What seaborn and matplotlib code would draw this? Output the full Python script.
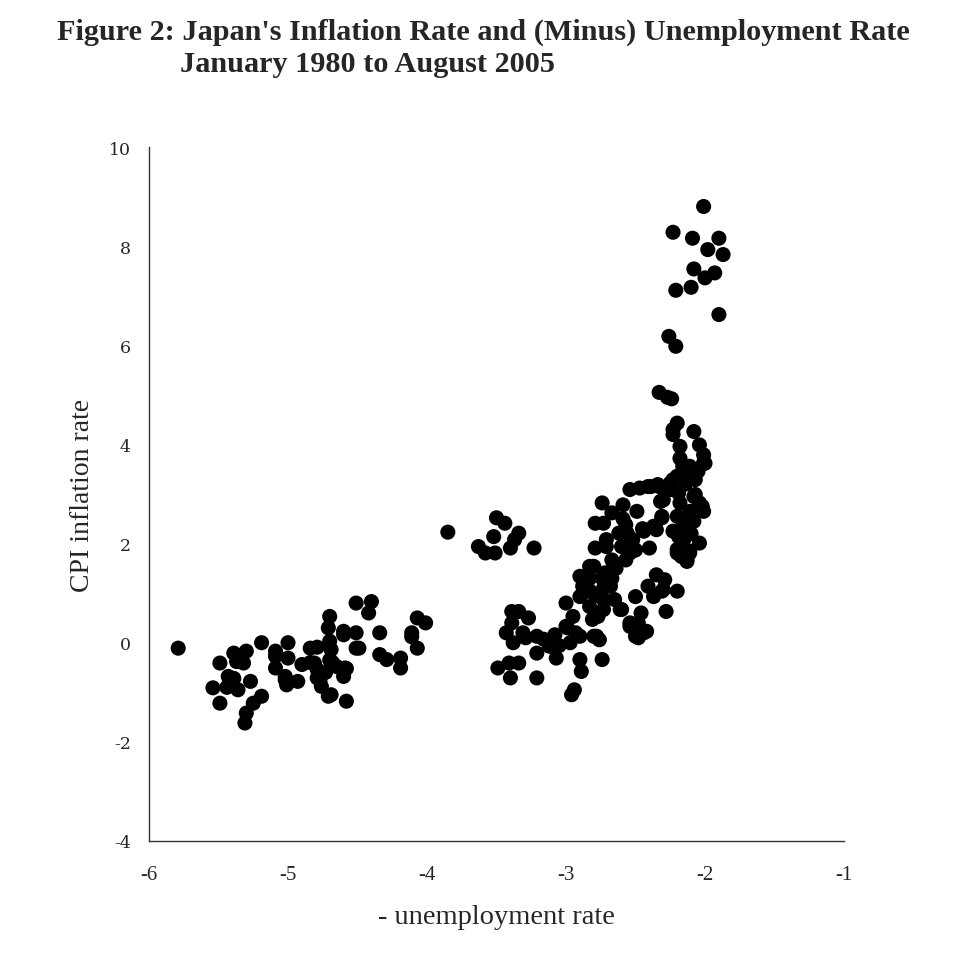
import matplotlib
matplotlib.use("Agg")
import matplotlib.pyplot as plt
import seaborn as sns
import pandas as pd

# - unemployment rate (x) and CPI inflation rate (y)
neg_unemp = [
    -5.79, -5.54, -5.49, -5.49, -5.44, -5.43, -5.39, -5.39, -5.37, -5.36,
    -5.32, -5.30, -5.30, -5.31, -5.27, -5.25, -5.19, -5.19, -5.09, -5.09,
    -5.09, -5.00, -5.00, -5.02, -5.01, -5.02, -4.93, -4.90, -4.84, -4.79,
    -4.84, -4.81, -4.79, -4.79, -4.77, -4.76, -4.70, -4.71, -4.70, -4.69,
    -4.70, -4.68, -4.65, -4.73, -4.71, -4.69, -4.58, -4.60, -4.60, -4.60,
    -4.58, -4.59, -4.51, -4.51, -4.49, -4.51, -4.40, -4.42, -4.34, -4.34,
    -4.29, -4.19, -4.19, -4.07, -4.01, -4.11, -4.11, -4.07,
    -3.85, -3.50, -3.44, -3.52, -3.63, -3.58, -3.51, -3.40, -3.37, -3.34, -3.23,
    -3.39, -3.34, -3.27, -3.39, -3.43, -3.38, -3.31, -3.29, -3.21, -3.21,
    -3.16, -3.12, -3.08, -3.07, -3.05, -3.00, -3.00, -2.95, -2.93, -2.97,
    -2.99, -2.90, -2.89, -2.94, -2.96, -3.49, -3.41, -3.34, -3.40, -3.21,
    -2.78, -2.74,
    -2.80, -2.76, -2.90, -2.90, -2.88, -2.90, -2.88, -2.83, -2.83, -2.83,
    -2.83, -2.77, -2.81, -2.73, -2.73, -2.72, -2.67, -2.64, -2.67, -2.65,
    -2.60, -2.73, -2.79, -2.71, -2.71, -2.73, -2.79, -2.74, -2.67, -2.59,
    -2.49, -2.59, -2.62, -2.56, -2.57, -2.52, -2.60, -2.54, -2.57, -2.50,
    -2.44, -2.40, -2.35, -2.31, -2.32, -2.54, -2.47, -2.41, -2.34, -2.25,
    -2.20, -2.16, -2.01, -2.14, -2.08, -2.02, -2.02, -2.18, -2.20, -2.16,
    -2.19, -2.15, -2.10, -2.04, -2.20, -2.17, -2.13, -2.11, -2.41, -2.35,
    -2.29, -2.31, -2.20, -2.37, -2.28, -2.50, -2.46, -2.48, -2.42, -2.48,
    -2.54, -2.30, -2.44, -2.50, -2.54, -2.80, -2.68, -2.66, -2.74, -2.79,
    -2.61,
    -2.01, -2.23, -2.09, -1.90, -1.98, -1.87, -1.93, -2.00, -2.08, -2.10,
    -2.21, -1.90, -2.26, -2.21, -2.33, -2.24, -2.27,
    -2.23, -2.20, -2.23, -2.18, -2.08, -2.04, -2.18, -2.01, -2.00, -2.11,
    -2.05, -2.15, -2.23, -2.14, -2.07, -2.33, -2.39, -2.25, -2.19, -2.07,
    -2.30, -2.04, -2.01, -2.11, -2.16, -2.31, -2.37, -2.08, -2.23, -2.12,
    -2.17, -2.20, -2.11, -2.13, -2.45,
]
cpi_inflation = [
    -0.11, -0.91, -0.41, -1.22, -0.90, -0.68, -0.21, -0.72, -0.38, -0.95,
    -0.41, -0.17, -1.42, -1.62, -0.78, -1.22, -1.08, 0.00, -0.17, -0.27,
    -0.51, 0.00, -0.31, -0.68, -0.85, -0.75, -0.78, -0.44, -0.11, -0.09,
    -0.40, -0.41, -0.54, -0.71, -0.75, -0.88, 0.53, 0.30, 0.03, -0.14,
    -0.35, -0.40, -0.48, -0.60, -1.08, -1.05, -1.18, 0.23, 0.16, -0.68,
    -0.52, -0.51, 0.20, -0.11, -0.11, 0.80, 0.83, 0.60, 0.20, -0.24,
    -0.34, -0.31, -0.51, 0.50, 0.40, 0.20, 0.12, -0.11,
    2.23, 2.52, 2.41, 2.14, 1.94, 1.81, 1.81, 1.91, 2.08, 2.21, 1.91,
    0.63, 0.63, 0.50, 0.40, 0.20, 0.00, 0.20, 0.10, 0.13, -0.21,
    0.07, -0.07, 0.16, -0.31, -0.06, 0.33, 0.80, 0.53, 0.20, 0.00,
    0.30, -0.34, -0.58, -0.95, -1.05, -0.51, -0.41, -0.41, -0.71, -0.71,
    0.13, -0.34,
    0.13, 0.06, 0.13, 1.34, 1.14, 0.93, 1.00, 1.54, 1.30, 1.05,
    0.73, 0.53, 0.47, 0.87, 1.10, 1.41, 1.67, 1.50, 1.30, 0.87,
    0.67, 0.67, 1.91, 1.94, 2.08, 2.41, 2.41, 2.82, 2.62, 2.78,
    2.65, 2.50, 2.21, 2.21, 2.38, 2.08, 1.94, 1.81, 1.67, 1.87,
    2.25, 1.91, 2.28, 2.52, 2.85, 3.09, 3.12, 3.15, 3.19, 3.22,
    3.36, 3.56, 3.63, 3.20, 2.95, 2.75, 2.70, 2.82, 2.55, 2.35,
    2.14, 2.10, 2.20, 2.01, 1.88, 1.74, 1.67, 1.85, 1.14, 1.37,
    1.27, 1.04, 1.04, 0.93, 0.63, 0.93, 0.60, 0.40, 0.23, 0.10,
    0.40, 1.07, 0.20, 0.13, 0.33, 1.54, 1.14, 1.50, 1.30, 0.95,
    0.67,
    8.80, 8.28, 8.16, 8.16, 7.93, 7.83, 7.46, 7.36, 7.54, 7.17,
    7.11, 6.62, 6.18, 5.98, 5.05, 4.92, 4.95,
    4.30, 4.43, 4.20, 3.96, 4.26, 3.99, 3.72, 3.79, 3.62, 3.56,
    3.46, 3.50, 3.29, 3.29, 3.29, 3.15, 3.15, 3.09, 3.02, 2.99,
    2.88, 2.82, 2.65, 2.65, 2.48, 2.55, 2.35, 2.45, 2.25, 2.22,
    2.01, 1.81, 1.81, 1.64, 2.30,
]

x_ticks = [-6, -5, -4, -3, -2, -1]
y_ticks = [-4, -2, 0, 2, 4, 6, 8, 10]
title_line1 = "Figure 2: Japan's Inflation Rate and (Minus) Unemployment Rate"
title_line2 = "January 1980 to August 2005"
x_label = "- unemployment rate"
y_label = "CPI inflation rate"

df = pd.DataFrame({"x": neg_unemp, "y": cpi_inflation})

sns.set_style("white")
plt.rcParams["font.family"] = ["Liberation Serif", "DejaVu Serif"]

fig = plt.figure(figsize=(9.66, 9.62), dpi=100)
ax = fig.add_axes([149 / 966, 1 - 842 / 962, (844 - 149) / 966, (842 - 148) / 962])

sns.scatterplot(data=df, x="x", y="y", ax=ax, color="black", s=118,
                linewidth=0, edgecolor="none", alpha=1.0, legend=False)

ax.set_xlim(-6, -1)
ax.set_ylim(-4, 10)
ax.set_xticks(x_ticks)
ax.set_yticks(y_ticks)
ax.set_xticklabels([str(v) for v in x_ticks], fontsize=15, family="Liberation Serif")
ax.set_yticklabels([str(v) for v in y_ticks], fontsize=12.5, family="DejaVu Serif")

for side in ["top", "right"]:
    ax.spines[side].set_visible(False)
for side in ["left", "bottom"]:
    ax.spines[side].set_color("#333333")
    ax.spines[side].set_linewidth(1.0)

ax.tick_params(axis="x", direction="out", length=7, width=1.0, color="#333333", pad=10)
ax.tick_params(axis="y", direction="out", length=6, width=1.0, color="#333333", pad=7)

ax.set_xlabel(x_label, fontsize=20.5, labelpad=15)
ax.set_ylabel(y_label, fontsize=20, labelpad=10)

fig.text(57 / 966, 1 - 32 / 962, title_line1, fontsize=21.8, fontweight="bold",
         ha="left", va="center")
fig.text(180 / 966, 1 - 64 / 962, title_line2, fontsize=21.8, fontweight="bold",
         ha="left", va="center")

fig.savefig("out.png", dpi=100, facecolor="white")
